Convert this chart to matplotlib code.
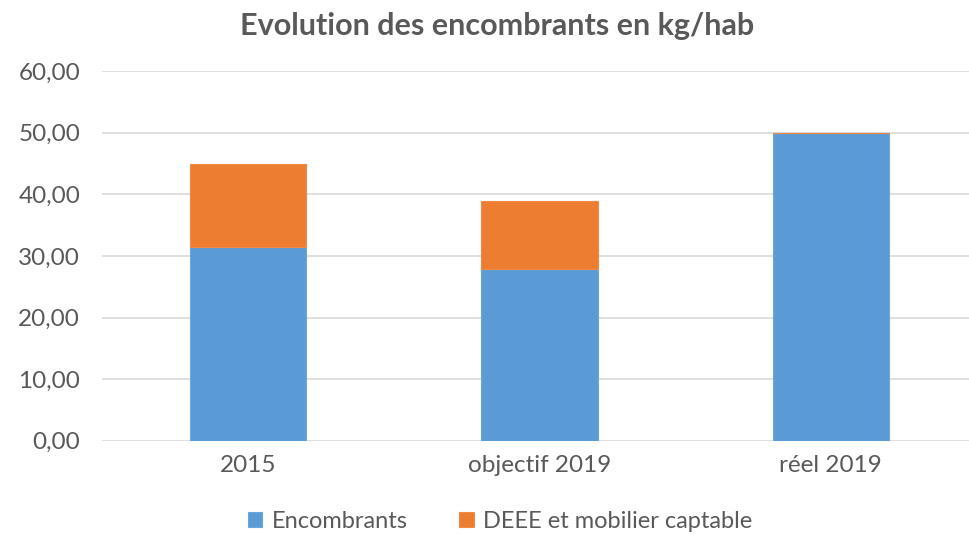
import numpy as np
import matplotlib.pyplot as plt

# Data
categories = ['2015', 'objectif 2019', 'réel 2019']
encombrants = [31.5, 27.9, 50.0]
deee = [13.5, 11.1, 0.0]
yticks = [0, 10, 20, 30, 40, 50, 60]

plt.rcParams['font.family'] = ['Lato', 'DejaVu Sans']

fig = plt.figure(figsize=(9.69, 5.35), dpi=100)
ax = fig.add_axes([0.1057, 0.176, 0.902, 0.691])

x = np.arange(len(categories))
ax.bar(x, encombrants, width=0.4, color='#5B9BD5', edgecolor='#6fa6d8',
       linewidth=0.8, label='Encombrants', zorder=3)
ax.bar(x, deee, width=0.4, bottom=encombrants, color='#ED7D31',
       edgecolor='#f08a45', linewidth=0.8, label='DEEE et mobilier captable', zorder=3)

ax.set_xlim(-0.5, 2.5)
ax.set_ylim(0, 60)
ax.set_yticks(yticks)
ax.set_yticklabels([f'{v:.2f}'.replace('.', ',') for v in yticks])
ax.set_xticks(x)
ax.set_xticklabels(categories)
ax.yaxis.grid(True, color='#D9D9D9', linewidth=1.2, zorder=0)
ax.tick_params(axis='both', length=0, labelsize=17.5, labelcolor='#595959')
ax.tick_params(axis='y', pad=16)
ax.tick_params(axis='x', pad=10)
for s in ax.spines.values():
    s.set_visible(False)

fig.text(0.513, 0.951, 'Evolution des encombrants en kg/hab', ha='center', va='center',
         fontsize=22, fontweight='bold', color='#595959')

fig.legend(loc='center', bbox_to_anchor=(0.516, 0.025), ncol=2, frameon=False,
           fontsize=17, labelcolor='#595959', handlelength=0.6, handleheight=0.6,
           handletextpad=0.4, columnspacing=2.2)

fig.savefig('out.png', dpi=100)
